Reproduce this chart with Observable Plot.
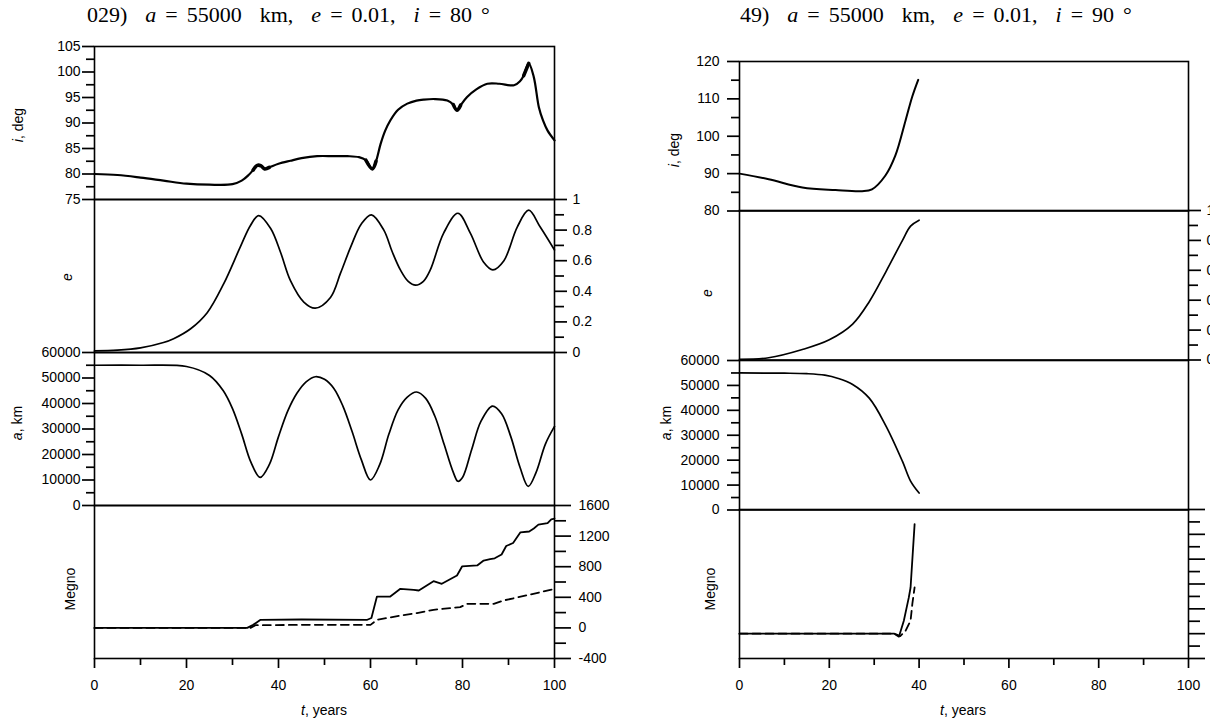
<!DOCTYPE html>
<html><head><meta charset="utf-8">
<script src="https://cdn.jsdelivr.net/npm/d3@7"></script>
<script src="https://cdn.jsdelivr.net/npm/@observablehq/plot@0.6"></script>
<style>
body{margin:0;background:#fff;}
#root{position:relative;width:1210px;height:727px;overflow:hidden;font-family:"Liberation Sans",Arial,sans-serif;color:#000;}
.title{position:absolute;font-family:"Liberation Serif","Times New Roman",serif;font-size:22px;white-space:pre;word-spacing:3.5px;line-height:1;}
.lab{position:absolute;font-size:14px;white-space:nowrap;line-height:1;transform:translate(-50%,-50%) rotate(-90deg);}
.xl{position:absolute;font-size:14px;white-space:nowrap;line-height:1;transform:translate(-50%,-50%);}
</style></head><body><div id="root"></div><script>
// ---------------- data: left run (029) ----------------
const tI1 = [0, 5, 10, 15, 20, 25, 30, 32, 33.5, 34.5, 35.4, 36.2, 37, 38, 40, 42.6, 45, 48.4, 52, 55, 57.5, 59, 60.4, 61.2, 62.2, 63.2, 64.3, 66, 68, 70, 71.6, 74, 76.7, 78, 78.8, 79.6, 81, 83, 85.4, 88, 91.2, 92.5, 93.3, 94.4, 95.5, 96.6, 97.5, 98.5, 100];
const I1  = [80, 79.8, 79.3, 78.7, 78.1, 77.9, 78.0, 78.7, 79.8, 80.8, 81.7, 81.6, 81.0, 81.3, 82.0, 82.6, 83.1, 83.5, 83.5, 83.5, 83.3, 82.7, 81.0, 82.5, 85.9, 88.5, 90.5, 92.6, 93.8, 94.4, 94.6, 94.7, 94.4, 93.6, 92.5, 93.5, 95.1, 96.6, 97.7, 97.7, 97.4, 98.2, 99.3, 101.7, 99.0, 93.1, 90.5, 88.5, 86.6];
const tE1 = [0, 5, 10, 15, 17.2, 20.9, 24.5, 28.1, 31.7, 33.9, 35.7, 38.3, 40.5, 42.6, 45.5, 48, 51.3, 53.5, 55.7, 58, 60.2, 62.9, 64.7, 66.5, 68.2, 69.8, 71.5, 73, 75.9, 79, 81.7, 84.6, 86.6, 89, 91.9, 94.4, 96.9, 100];
const E1  = [0.01, 0.015, 0.03, 0.065, 0.09, 0.155, 0.26, 0.45, 0.69, 0.83, 0.895, 0.81, 0.65, 0.47, 0.33, 0.29, 0.36, 0.52, 0.69, 0.84, 0.90, 0.80, 0.66, 0.54, 0.465, 0.44, 0.465, 0.54, 0.78, 0.91, 0.78, 0.59, 0.54, 0.60, 0.82, 0.93, 0.82, 0.67];
const tA1 = [0, 10, 20, 25, 28, 30, 32, 34, 36, 38, 40, 42, 44, 46, 48, 50, 52, 54, 56, 58, 60, 62, 64, 66, 68, 70, 72, 74, 76, 78, 79, 80, 82, 84, 86.5, 88.5, 90.5, 92.5, 94.3, 96, 98, 100];
const A1  = [55000, 55000, 54500, 51000, 45000, 38000, 28000, 17000, 11000, 16000, 27000, 37000, 44000, 48500, 50500, 49500, 46000, 39000, 29000, 18000, 10000, 16000, 28000, 37500, 42500, 44500, 42000, 35000, 24000, 13000, 9500, 11000, 22000, 33000, 39000, 36000, 27000, 15000, 7500, 13000, 24000, 31000];
const tM1 = [0, 20, 33.2, 34.5, 36.1, 45, 59.3, 60.2, 61.4, 64.3, 66.5, 69.4, 70.5, 73.7, 75.5, 78.8, 79.9, 83.2, 84.6, 86, 87, 88.5, 89.5, 91, 92.6, 94.5, 95.5, 96.5, 97.5, 98.5, 99.3, 100];
const M1  = [0, 0, 0, 40, 106, 110, 106, 130, 410, 410, 511, 498, 489, 611, 576, 685, 803, 816, 881, 900, 910, 960, 1070, 1110, 1250, 1260, 1300, 1350, 1360, 1370, 1420, 1430];
const tD1 = [0, 20, 33.9, 35, 45, 60, 61.4, 66.5, 70.1, 73.7, 79.5, 81, 86.8, 88.9, 95.4, 99.1, 100];
const D1  = [0, 0, 0, 35, 40, 40, 105, 162, 193, 236, 271, 315, 315, 358, 445, 498, 510];
// intervals where the inclination curve shows a thick band of fast oscillation
const bands1 = [[34, 38], [58.5, 61.2], [77.6, 80], [92.8, 95.2]];
// ---------------- data: right run (49) ----------------
const tI2 = [0, 6.5, 14, 21.4, 27.3, 29.5, 32.5, 34.7, 37.0, 38.5, 39.8];
const I2  = [90, 88.5, 86.3, 85.6, 85.3, 85.8, 89.5, 94.8, 104.3, 110.7, 115.1];
const tE2 = [0, 6.5, 14, 20, 25.2, 28.9, 32.6, 36.3, 38.1, 40];
const E2  = [0.005, 0.015, 0.07, 0.135, 0.24, 0.39, 0.59, 0.80, 0.895, 0.935];
const tA2 = [0, 10, 15, 19, 22, 25.2, 28.9, 32.6, 36.3, 38.1, 40];
const A2  = [55000, 54900, 54700, 54100, 52800, 50400, 44900, 33800, 19500, 11600, 6800];
const tM2 = [0, 20, 34.5, 35.5, 36.6, 37.7, 38.1, 39.0];
const M2  = [0, 0, 0, -12, 52, 145, 186, 441];
const tD2 = [0, 20, 34.5, 35.8, 37.0, 38.1, 38.5, 39.0];
const D2  = [0, 0, 0, -10, 12, 52, 121, 186];
// ---------------- tick labels ----------------
const xMajor = [0, 20, 40, 60, 80, 100], xMinor = [10, 30, 50, 70, 90];
const iMaj1 = [75, 80, 85, 90, 95, 100, 105], iMin1 = [77.5, 82.5, 87.5, 92.5, 97.5, 102.5];
const iMaj2 = [80, 90, 100, 110, 120], iMin2 = [85, 95, 105, 115];
const eMaj = [0, 0.2, 0.4, 0.6, 0.8, 1], eMin = [0.1, 0.3, 0.5, 0.7, 0.9];
const aMaj = [0, 10000, 20000, 30000, 40000, 50000, 60000], aMin = [5000, 15000, 25000, 35000, 45000, 55000];
const mMaj1 = [-400, 0, 400, 800, 1200, 1600], mMin1 = [-200, 200, 600, 1000, 1400];
const mMaj2 = [-100, 0, 100, 200, 300, 400, 500], mMin2 = [-50, 50, 150, 250, 350, 450];

const rows = (ts, vs) => ts.map((t, k) => ({t, v: vs[k]}));
const root = document.getElementById("root");
const ML = 110, MR = 80, MT = 14;
function sub(o) {
  const MB = o.xAxis ? 70 : 14;
  const width = ML + (o.x1 - o.x0) + MR;
  const height = MT + (o.bottom - o.top) + MB;
  const marks = [];
  for (const a of o.axes) {
    marks.push(Plot.axisY({anchor: a.anchor, ticks: a.major, tickSize: a.majorLen, tickPadding: a.pad,
      tickFormat: d => String(d), label: null, fontSize: 14, strokeWidth: 1.7}));
    marks.push(Plot.axisY({anchor: a.anchor, ticks: a.minor, tickSize: a.minorLen, tickFormat: () => "", label: null, strokeWidth: 1.7}));
  }
  if (o.xAxis) {
    marks.push(Plot.axisX({anchor: "bottom", ticks: xMajor, tickSize: 10, tickPadding: 12, tickFormat: d => String(d), label: null, fontSize: 14, strokeWidth: 1.7}));
    marks.push(Plot.axisX({anchor: "bottom", ticks: xMinor, tickSize: 7, tickFormat: () => "", label: null, strokeWidth: 1.7}));
  }
  marks.push(Plot.frame({stroke: "black", strokeWidth: 1.6}));
  for (const l of o.lines) marks.push(Plot.line(l.data, {x: "t", y: "v", z: l.z, stroke: "black", strokeWidth: l.w || 1.7, strokeDasharray: l.dash, curve: l.curve || "catmull-rom"}));
  const svg = Plot.plot({width, height, marginLeft: ML, marginRight: MR, marginTop: MT, marginBottom: MB,
    x: {domain: [0, 100], axis: o.xAxis ? undefined : null}, y: {domain: o.domain, axis: null},
    style: {background: "transparent", overflow: "visible", fontFamily: "Liberation Sans, Arial, sans-serif", fontSize: "14px", color: "black"},
    marks});
  svg.style.position = "absolute";
  svg.style.left = (o.x0 - ML) + "px";
  svg.style.top = (o.top - MT) + "px";
  root.appendChild(svg);
}
function html(cls, h, x, y) {
  const d = document.createElement("div");
  d.className = cls; d.innerHTML = h;
  d.style.left = x + "px"; d.style.top = y + "px";
  root.appendChild(d);
}

// thick "band" segments of the inclination curve
const iRows1 = rows(tI1, I1);
const bandRows1 = [];
bands1.forEach(([a, b], k) => iRows1.filter(r => r.t >= a && r.t <= b).forEach(r => bandRows1.push({...r, band: k})));

// left column
const L = {x0: 94, x1: 554};
sub({...L, top: 46, bottom: 199, domain: [75, 105], axes: [{anchor: "left", major: iMaj1, minor: iMin1, majorLen: 12, minorLen: 8, pad: 2}],
  lines: [{data: iRows1, w: 2.2}, {data: bandRows1, z: "band", w: 3.6}]});
sub({...L, top: 199, bottom: 352, domain: [0, 1], axes: [{anchor: "right", major: eMaj, minor: eMin, majorLen: 12, minorLen: 9, pad: 6}], lines: [{data: rows(tE1, E1)}]});
sub({...L, top: 352, bottom: 505, domain: [0, 60000], axes: [{anchor: "left", major: aMaj, minor: aMin, majorLen: 12, minorLen: 8, pad: 2}], lines: [{data: rows(tA1, A1)}]});
sub({...L, top: 505, bottom: 658, domain: [-400, 1600], xAxis: true, axes: [{anchor: "right", major: mMaj1, minor: mMin1, majorLen: 16, minorLen: 11, pad: 8}],
  lines: [{data: rows(tM1, M1), curve: "linear", w: 1.8}, {data: rows(tD1, D1), curve: "linear", w: 1.8, dash: "8,5"}]});
// right column
const R = {x0: 739, x1: 1188};
sub({...R, top: 60.5, bottom: 210, domain: [80, 120], axes: [{anchor: "left", major: iMaj2, minor: iMin2, majorLen: 12, minorLen: 8, pad: 8}], lines: [{data: rows(tI2, I2), w: 2}]});
sub({...R, top: 210, bottom: 359.5, domain: [0, 1], axes: [{anchor: "right", major: eMaj, minor: eMin, majorLen: 12, minorLen: 9, pad: 6}], lines: [{data: rows(tE2, E2)}]});
sub({...R, top: 359.5, bottom: 509, domain: [0, 60000], axes: [{anchor: "left", major: aMaj, minor: aMin, majorLen: 12, minorLen: 8, pad: 8}], lines: [{data: rows(tA2, A2)}]});
sub({...R, top: 509, bottom: 658, domain: [-100, 500], xAxis: true, axes: [{anchor: "right", major: mMaj2, minor: mMin2, majorLen: 16, minorLen: 11, pad: 8}],
  lines: [{data: rows(tM2, M2), curve: "linear", w: 1.8}, {data: rows(tD2, D2), curve: "linear", w: 1.8, dash: "8,5"}]});

// titles
html("title", "029)  <i>a</i> = 55000  km,  <i>e</i> = 0.01,  <i>i</i> = 80 °", 87, 4);
html("title", "49)  <i>a</i> = 55000  km,  <i>e</i> = 0.01,  <i>i</i> = 90 °", 740, 4);
// axis labels
html("lab", "<i>i</i>, deg", 18, 125);
html("lab", "<i>e</i>", 67, 277);
html("lab", "<i>a</i>, km", 17, 423);
html("lab", "Megno", 70, 589);
html("xl", "<i>t</i>, years", 324, 710);
html("lab", "<i>i</i>, deg", 674, 150);
html("lab", "<i>e</i>", 707, 293);
html("lab", "<i>a</i>, km", 666, 423);
html("lab", "Megno", 710, 589);
html("xl", "<i>t</i>, years", 963, 710);
</script></body></html>
